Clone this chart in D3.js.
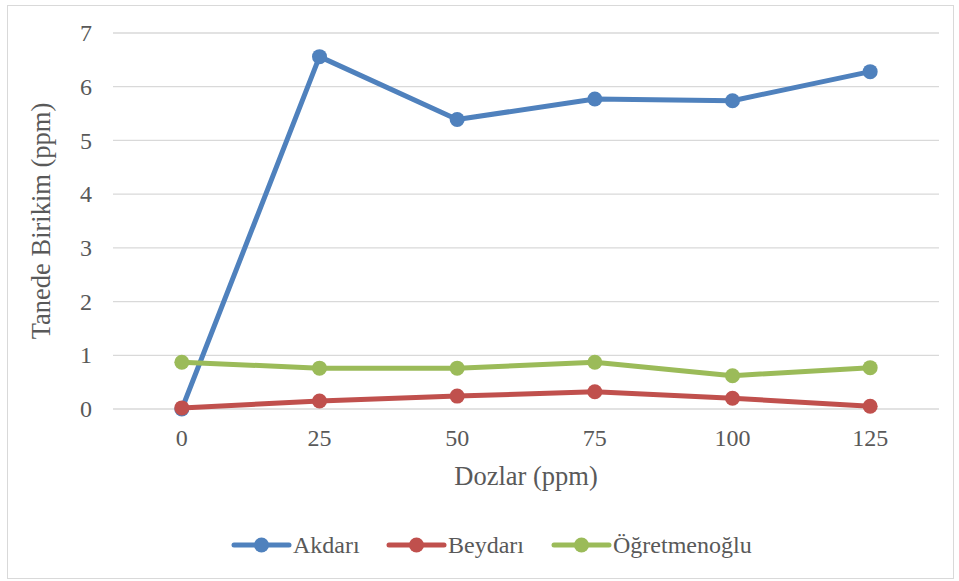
<!DOCTYPE html>
<html>
<head>
<meta charset="utf-8">
<script src="https://cdn.jsdelivr.net/npm/d3@7"></script>
<style>
  body { margin: 0; background: #fff; }
</style>
</head>
<body>
<div id="chart"></div>
<script>
// data
var doses = ["0", "25", "50", "75", "100", "125"];
var akdari = [0, 6.56, 5.39, 5.77, 5.74, 6.28];
var beydari = [0.02, 0.15, 0.24, 0.32, 0.2, 0.05];
var ogretmenoglu = [0.87, 0.76, 0.76, 0.87, 0.62, 0.77];
var seriesNames = ["Akdarı", "Beydarı", "Öğretmenoğlu"];
var seriesColors = ["#4f81bd", "#c0504d", "#9bbb59"];
var yTicks = [0, 1, 2, 3, 4, 5, 6, 7];

var svgWidth = 959;
var svgHeight = 581;
var serif = "'Liberation Serif', 'Times New Roman', Times, serif";

var margin = { top: 33, right: 20, bottom: 172, left: 113 };
var width = 939 - margin.left;
var height = 409 - margin.top;

var svg = d3.select("#chart")
  .append("svg")
  .attr("width", svgWidth)
  .attr("height", svgHeight)
  .attr("font-family", serif);

// chart border
svg.append("rect")
  .attr("x", 7.5)
  .attr("y", 5.5)
  .attr("width", 946)
  .attr("height", 573)
  .attr("fill", "#fff")
  .attr("stroke", "#d9d9d9");

var chartGroup = svg.append("g")
  .attr("transform", `translate(${margin.left}, ${margin.top})`);

var xScale = d3.scaleBand()
  .domain(doses)
  .range([0, width]);

var yScale = d3.scaleLinear()
  .domain([0, 7])
  .range([height, 0]);

// gridlines
chartGroup.selectAll(".grid")
  .data(yTicks)
  .enter()
  .append("line")
  .attr("x1", 0)
  .attr("x2", width)
  .attr("y1", d => yScale(d))
  .attr("y2", d => yScale(d))
  .attr("stroke", "#d9d9d9")
  .attr("stroke-width", 1.3);

// y axis labels
var leftAxis = d3.axisLeft(yScale)
  .tickValues(yTicks)
  .tickFormat(d3.format("d"))
  .tickSize(0)
  .tickPadding(21);
var yAxisG = chartGroup.append("g").call(leftAxis).attr("font-family", serif);
yAxisG.select(".domain").remove();
yAxisG.selectAll("text")
  .attr("font-size", "24px")
  .attr("fill", "#595959");

// x axis labels
var bottomAxis = d3.axisBottom(xScale).tickSize(0).tickPadding(20);
var xAxisG = chartGroup.append("g")
  .attr("transform", `translate(0, ${height})`)
  .call(bottomAxis)
  .attr("font-family", serif);
xAxisG.select(".domain").remove();
xAxisG.selectAll("text")
  .attr("font-size", "24px")
  .attr("fill", "#595959");

// series
var allSeries = [akdari, beydari, ogretmenoglu];
var line = d3.line()
  .x((d, i) => xScale(doses[i]) + xScale.bandwidth() / 2)
  .y(d => yScale(d));

allSeries.forEach(function (values, s) {
  chartGroup.append("path")
    .datum(values)
    .attr("fill", "none")
    .attr("stroke", seriesColors[s])
    .attr("stroke-width", 5)
    .attr("stroke-linejoin", "round")
    .attr("stroke-linecap", "round")
    .attr("d", line);

  chartGroup.selectAll(".pt" + s)
    .data(values)
    .enter()
    .append("circle")
    .attr("cx", (d, i) => xScale(doses[i]) + xScale.bandwidth() / 2)
    .attr("cy", d => yScale(d))
    .attr("r", 7.5)
    .attr("fill", seriesColors[s]);
});

// axis titles
svg.append("text")
  .attr("transform", `translate(50, ${margin.top + height / 2}) rotate(-90)`)
  .attr("text-anchor", "middle")
  .attr("font-family", serif)
  .attr("fill", "#595959")
  .attr("font-size", "26.5px")
  .text("Tanede Birikim (ppm)");

svg.append("text")
  .attr("x", margin.left + width / 2)
  .attr("y", 485)
  .attr("text-anchor", "middle")
  .attr("font-family", serif)
  .attr("fill", "#595959")
  .attr("font-size", "26.5px")
  .text("Dozlar (ppm)");

// legend
var legendX = [234, 389, 554];
var legend = svg.selectAll(".legend")
  .data(seriesNames)
  .enter()
  .append("g")
  .attr("transform", (d, i) => `translate(${legendX[i]}, 545)`);

legend.append("line")
  .attr("x1", 0)
  .attr("x2", 55)
  .attr("stroke", (d, i) => seriesColors[i])
  .attr("stroke-width", 5)
  .attr("stroke-linecap", "round");

legend.append("circle")
  .attr("cx", 27.5)
  .attr("r", 7.5)
  .attr("fill", (d, i) => seriesColors[i]);

legend.append("text")
  .attr("x", 59)
  .attr("y", 8)
  .attr("font-family", serif)
  .attr("fill", "#595959")
  .attr("font-size", "24px")
  .text(d => d);
</script>
</body>
</html>
